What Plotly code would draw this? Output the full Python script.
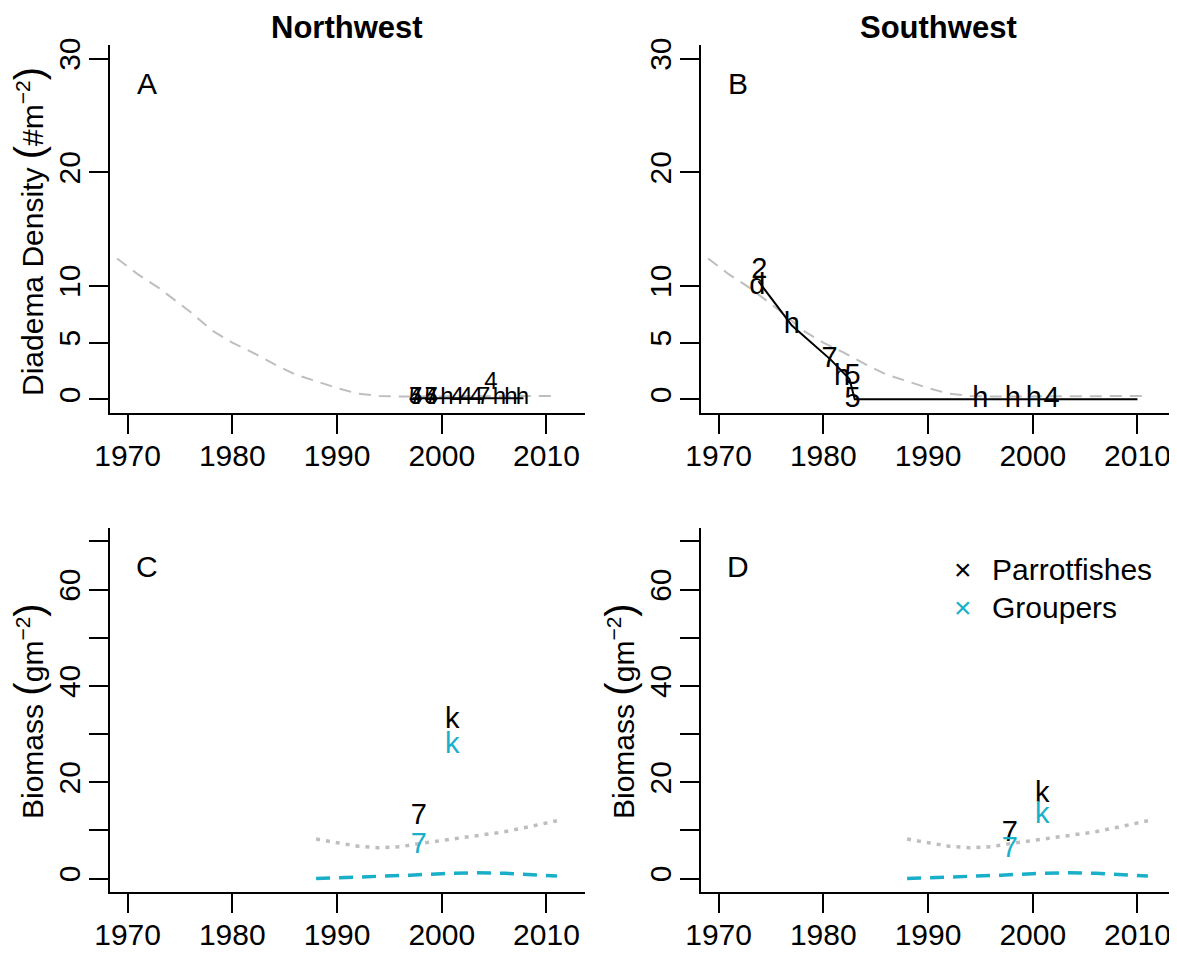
import plotly.graph_objects as go

# ---------------- data ----------------
years_ticks = [1970, 1980, 1990, 2000, 2010]
tick_labels = ["1970", "1980", "1990", "2000", "2010"]

# gray dashed reference curve (Diadema density, panels A & B)
ref_years = [1969, 1971, 1973, 1976, 1978, 1980, 1982, 1984, 1986, 1988, 1990, 1992, 1994, 1996, 2000, 2005, 2011]
ref_density = [12.4, 11.0, 9.8, 7.7, 6.1, 5.0, 4.1, 3.1, 2.2, 1.6, 1.0, 0.5, 0.3, 0.25, 0.25, 0.3, 0.3]

# Northwest diadema observations
nw_years = [1997.5, 1997.5, 1997.5, 1999.0, 1999.0, 1999.0, 2000.5, 2001.5, 2002.3, 2003.3, 2004.0, 2004.7, 2005.5, 2006.6, 2007.7]
nw_density = [0.1, 0.1, 0.1, 0.1, 0.1, 0.1, 0.1, 0.1, 0.1, 0.1, 0.1, 1.4, 0.1, 0.1, 0.1]
nw_codes = ["4", "5", "7", "4", "5", "7", "h", "4", "4", "4", "7", "4", "h", "h", "h"]
nw_line_years = [1997.2, 2007.8]
nw_line_density = [0.1, 0.1]

# Southwest diadema observations
sw_years = [1973.9, 1973.7, 1977.0, 1980.6, 1981.8, 1982.8, 1982.8, 1995.0, 1998.1, 2000.1, 2001.8]
sw_density = [11.3, 9.9, 6.5, 3.5, 1.9, 2.0, 0.0, 0.0, 0.0, 0.0, 0.0]
sw_codes = ["2", "d", "h", "7", "h", "5", "5", "h", "h", "h", "4"]
sw_line_years = [1973.8, 1977.0, 1980.7, 1982.5, 1983.0, 2010.0]
sw_line_density = [10.4, 6.5, 3.5, 1.8, 0.0, 0.0]

# biomass reference curves (panels C & D)
parrot_ref_years = [1988, 1990, 1992, 1994, 1996, 1998, 2000, 2002, 2004, 2006, 2008, 2011]
parrot_ref = [8.2, 7.4, 6.7, 6.4, 6.6, 7.3, 7.9, 8.4, 9.0, 9.7, 10.6, 12.0]
grouper_ref_years = [1988, 1991, 1994, 1997, 2000, 2003, 2006, 2009, 2011]
grouper_ref = [0.0, 0.2, 0.4, 0.7, 1.0, 1.2, 1.1, 0.7, 0.5]

# biomass observations
nw_bio_years = [2001.0, 1997.8]
nw_parrot = [32.8, 12.8]
nw_grouper = [27.6, 6.8]
nw_bio_codes = ["k", "7"]

sw_bio_years = [2000.9, 1997.8]
sw_parrot = [17.5, 9.2]
sw_grouper = [13.0, 6.0]
sw_bio_codes = ["k", "7"]

BLUE = "#1AAFC9"
GRAY = "#BEBEBE"
FONT = "Liberation Sans, Arial, sans-serif"
OFF = 8                       # page body margin in the browser
W, H = 1177 - OFF, 954 - OFF  # figure size so that margin + figure fills the window

fig = go.Figure()

def add(trace, ax):
    trace.update(xaxis="x" if ax == 1 else f"x{ax}", yaxis="y" if ax == 1 else f"y{ax}")
    fig.add_trace(trace)

# Panel A
add(go.Scatter(x=ref_years, y=ref_density, mode="lines",
               line=dict(color=GRAY, width=2, dash="12px,8px"), showlegend=False), 1)
add(go.Scatter(x=nw_line_years, y=nw_line_density, mode="lines",
               line=dict(color="black", width=2), showlegend=False), 1)
add(go.Scatter(x=nw_years, y=nw_density, mode="text", text=nw_codes,
               textfont=dict(size=24, color="black", family=FONT), showlegend=False), 1)

# Panel B
add(go.Scatter(x=ref_years, y=ref_density, mode="lines",
               line=dict(color=GRAY, width=2, dash="12px,8px"), showlegend=False), 2)
add(go.Scatter(x=sw_line_years, y=sw_line_density, mode="lines",
               line=dict(color="black", width=2), showlegend=False), 2)
add(go.Scatter(x=sw_years, y=sw_density, mode="text", text=sw_codes,
               textfont=dict(size=29, color="black", family=FONT), showlegend=False), 2)

# Panels C & D
for ax, yrs, par, gro, codes in [(3, nw_bio_years, nw_parrot, nw_grouper, nw_bio_codes),
                                 (4, sw_bio_years, sw_parrot, sw_grouper, sw_bio_codes)]:
    add(go.Scatter(x=parrot_ref_years, y=parrot_ref, mode="lines",
                   line=dict(color=GRAY, width=3.5, dash="4px,6px"), showlegend=False), ax)
    add(go.Scatter(x=grouper_ref_years, y=grouper_ref, mode="lines",
                   line=dict(color=BLUE, width=3.5, dash="14px,9px"), showlegend=False), ax)
    add(go.Scatter(x=yrs, y=par, mode="text", text=codes,
                   textfont=dict(size=29, color="black", family=FONT), showlegend=False), ax)
    add(go.Scatter(x=yrs, y=gro, mode="text", text=codes,
                   textfont=dict(size=29, color=BLUE, family=FONT), showlegend=False), ax)

def fx(px):
    return (px - OFF) / W

def fy(py):
    return 1 - (py - OFF) / H

xdom_l = [fx(110), fx(585)]
xdom_r = [fx(701), min(1.0, fx(1176))]
ydom_t = [fy(413), fy(45)]
ydom_b = [fy(892), fy(528)]

def xax(dom, anchor):
    return dict(domain=dom, anchor=anchor, range=[1968.32, 2013.68], tickvals=years_ticks,
                ticktext=tick_labels, ticks="outside", ticklen=19, tickwidth=2, tickcolor="black",
                showline=True, linewidth=2, linecolor="black", showgrid=False, zeroline=False,
                automargin=False, ticklabelstandoff=-4,
                tickfont=dict(size=30, color="black", family=FONT))

def yax(dom, anchor, rng, tv, tt):
    return dict(domain=dom, anchor=anchor, range=rng, tickvals=tv, ticktext=tt,
                ticks="outside", ticklen=19, tickwidth=2, tickcolor="black", tickangle=-90,
                showline=True, linewidth=2, linecolor="black", showgrid=False, zeroline=False,
                ticklabelstandoff=-3, automargin=False,
                tickfont=dict(size=30, color="black", family=FONT))

dens_ticks = [0, 5, 10, 20, 30]
dens_labels = ["0", "5", "10", "20", "30"]
bio_ticks = [0, 10, 20, 30, 40, 50, 60, 70]
bio_labels = ["0", "", "20", "", "40", "", "60", ""]

fig.update_layout(
    template="none",
    width=W, height=H, margin=dict(l=0, r=0, t=0, b=0, autoexpand=False),
    paper_bgcolor="white", plot_bgcolor="white", showlegend=False,
    font=dict(family=FONT, size=30, color="black"),
    xaxis=xax(xdom_l, "y"), yaxis=yax(ydom_t, "x", [-1.2, 31.2], dens_ticks, dens_labels),
    xaxis2=xax(xdom_r, "y2"), yaxis2=yax(ydom_t, "x2", [-1.2, 31.2], dens_ticks, dens_labels),
    xaxis3=xax(xdom_l, "y3"), yaxis3=yax(ydom_b, "x3", [-2.8, 72.8], bio_ticks, bio_labels),
    xaxis4=xax(xdom_r, "y4"), yaxis4=yax(ydom_b, "x4", [-2.8, 72.8], bio_ticks, bio_labels),
)

ann = []
def pann(text, px, py, size=30, color="black", angle=0, xanchor="center", bold=False):
    if bold:
        text = "<b>" + text + "</b>"
    ann.append(dict(text=text, x=fx(px), y=fy(py), xref="paper", yref="paper",
                    showarrow=False, xanchor=xanchor, yanchor="middle", textangle=angle,
                    font=dict(size=size, color=color, family=FONT)))

pann("Northwest", 347, 27, size=31, bold=True)
pann("Southwest", 938, 27, size=31, bold=True)

big = "<span style='font-size:40px'>(</span>"
bigc = "<span style='font-size:40px'>)</span>"
pann("Diadema Density " + big + "#m<sup>−2</sup>" + bigc, 29, 232, angle=-90)
pann("Biomass " + big + "gm<sup>−2</sup>" + bigc, 29, 711, angle=-90)
pann("Biomass " + big + "gm<sup>−2</sup>" + bigc, 620, 711, angle=-90)

for ax, lab, yv in [("", "A", 27.8), ("2", "B", 27.8), ("3", "C", 64.8), ("4", "D", 64.8)]:
    ann.append(dict(text=lab, x=1971.9, y=yv, xref="x" + ax, yref="y" + ax, showarrow=False,
                    xanchor="center", yanchor="middle", font=dict(size=30, color="black", family=FONT)))

# legend (panel D)
pann("×", 963, 569, size=30, color="black")
pann("Parrotfishes", 990, 569, size=30, color="black", xanchor="left")
pann("×", 963, 607, size=30, color=BLUE)
pann("Groupers", 990, 607, size=30, color="black", xanchor="left")

fig.update_layout(annotations=ann)
fig.write_html("out.html")
